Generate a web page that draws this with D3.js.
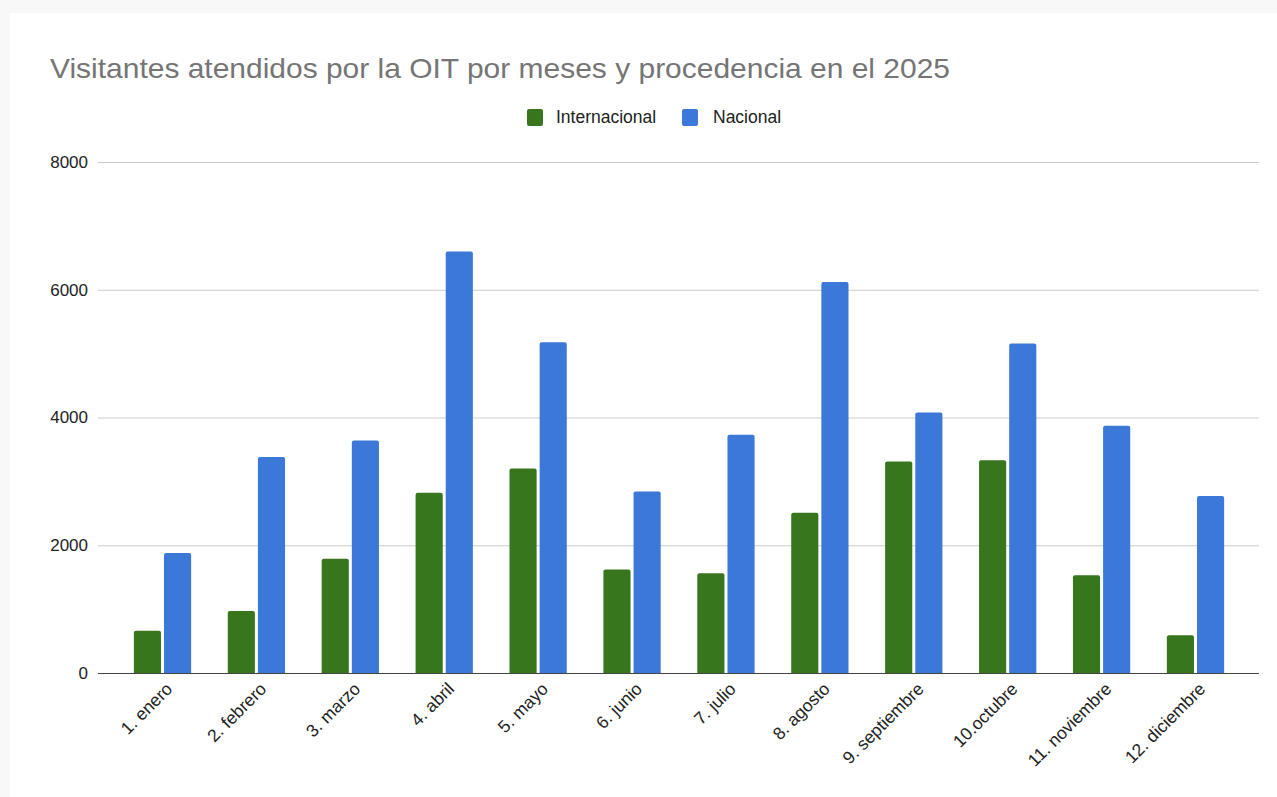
<!DOCTYPE html>
<html>
<head>
<meta charset="utf-8">
<script src="https://cdn.jsdelivr.net/npm/d3@7"></script>
<style>
  html, body { margin: 0; padding: 0; background: #f8f8f8; }
  svg { display: block; font-family: "Liberation Sans", Arial, Helvetica, sans-serif; }
</style>
</head>
<body>
<svg id="chart" width="1277" height="797"></svg>
<script>
const title = "Visitantes atendidos por la OIT por meses y procedencia en el 2025";
const categories = ["1. enero", "2. febrero", "3. marzo", "4. abril", "5. mayo", "6. junio",
  "7. julio", "8. agosto", "9. septiembre", "10.octubre", "11. noviembre", "12. diciembre"];
const seriesNames = ["Internacional", "Nacional"];
const internacional = [660, 970, 1790, 2820, 3200, 1620, 1560, 2510, 3310, 3330, 1530, 590];
const nacional = [1880, 3380, 3640, 6600, 5180, 2840, 3730, 6120, 4080, 5160, 3870, 2770];
const yTicks = [0, 2000, 4000, 6000, 8000];
const colors = ["#38761d", "#3c78d8"];

const svg = d3.select("#chart");
// white card
svg.append("rect").attr("x", 10).attr("y", 13).attr("width", 1267).attr("height", 784).attr("fill", "#ffffff");

const plotLeft = 98, plotRight = 1259, plotTop = 162, plotBottom = 673;

const y = d3.scaleLinear().domain([0, 8000]).range([plotBottom, plotTop]);
const x = d3.scaleBand().domain(categories).range([115.55, 1242.45]).paddingInner(0.39).paddingOuter(0.195);
const xs = d3.scaleBand().domain(seriesNames).range([0, x.bandwidth()]).paddingInner(0.1);

// title
svg.append("text").attr("x", 50).attr("y", 78).attr("fill", "#757575")
  .attr("font-size", 28).attr("textLength", 900).attr("lengthAdjust", "spacingAndGlyphs").text(title);

// legend
const legend = svg.append("g");
const legendItems = [{name: seriesNames[0], x: 527, tx: 556, w: 103}, {name: seriesNames[1], x: 682, tx: 713, w: 70}];
legendItems.forEach((d, i) => {
  legend.append("rect").attr("x", d.x).attr("y", 109).attr("width", 16).attr("height", 17)
    .attr("rx", 2).attr("fill", colors[i]);
  legend.append("text").attr("x", d.tx).attr("y", 123).attr("font-size", 17.5)
    .attr("fill", "#222").text(d.name);
});

// gridlines
const grid = svg.append("g");
grid.selectAll("line").data(yTicks.filter(t => t !== 0)).join("line")
  .attr("x1", plotLeft).attr("x2", plotRight)
  .attr("y1", d => y(d) + 0.5).attr("y2", d => y(d) + 0.5)
  .attr("stroke", "#cccccc").attr("stroke-width", 1);

// y axis labels
const yAxis = d3.axisLeft(y).tickValues(yTicks).tickSize(0).tickPadding(10).tickFormat(d3.format("d"));
const yG = svg.append("g").attr("transform", `translate(${plotLeft},0)`).call(yAxis);
yG.select(".domain").remove();
yG.selectAll("text").attr("font-size", 17).attr("fill", "#222")
  .attr("font-family", "'Liberation Sans', Arial, sans-serif");

// bars
const data = categories.map((c, i) => ({cat: c, vals: [internacional[i], nacional[i]]}));
const groups = svg.append("g").selectAll("g").data(data).join("g")
  .attr("transform", d => `translate(${x(d.cat)},0)`);
groups.selectAll("path").data(d => d.vals.map((v, j) => ({name: seriesNames[j], v, j}))).join("path")
  .attr("fill", d => colors[d.j])
  .attr("d", d => {
    const x0 = xs(d.name), w = xs.bandwidth(), y0 = y(d.v), y1 = y(0), r = 2;
    return `M${x0},${y1}V${y0 + r}Q${x0},${y0} ${x0 + r},${y0}H${x0 + w - r}Q${x0 + w},${y0} ${x0 + w},${y0 + r}V${y1}Z`;
  });

// baseline axis
svg.append("line").attr("x1", plotLeft).attr("x2", plotRight)
  .attr("y1", plotBottom + 0.5).attr("y2", plotBottom + 0.5)
  .attr("stroke", "#444").attr("stroke-width", 1.2);

// x labels
const xAxis = d3.axisBottom(x).tickSize(0).tickPadding(0);
const xG = svg.append("g").attr("transform", `translate(0,${plotBottom})`).call(xAxis);
xG.select(".domain").remove();
xG.selectAll("text")
  .attr("font-size", 17.5).attr("fill", "#222")
  .attr("font-family", "'Liberation Sans', Arial, sans-serif")
  .attr("text-anchor", "end")
  .attr("dy", null)
  .attr("y", 0)
  .attr("transform", "translate(11,17) rotate(-45)");
</script>
</body>
</html>
